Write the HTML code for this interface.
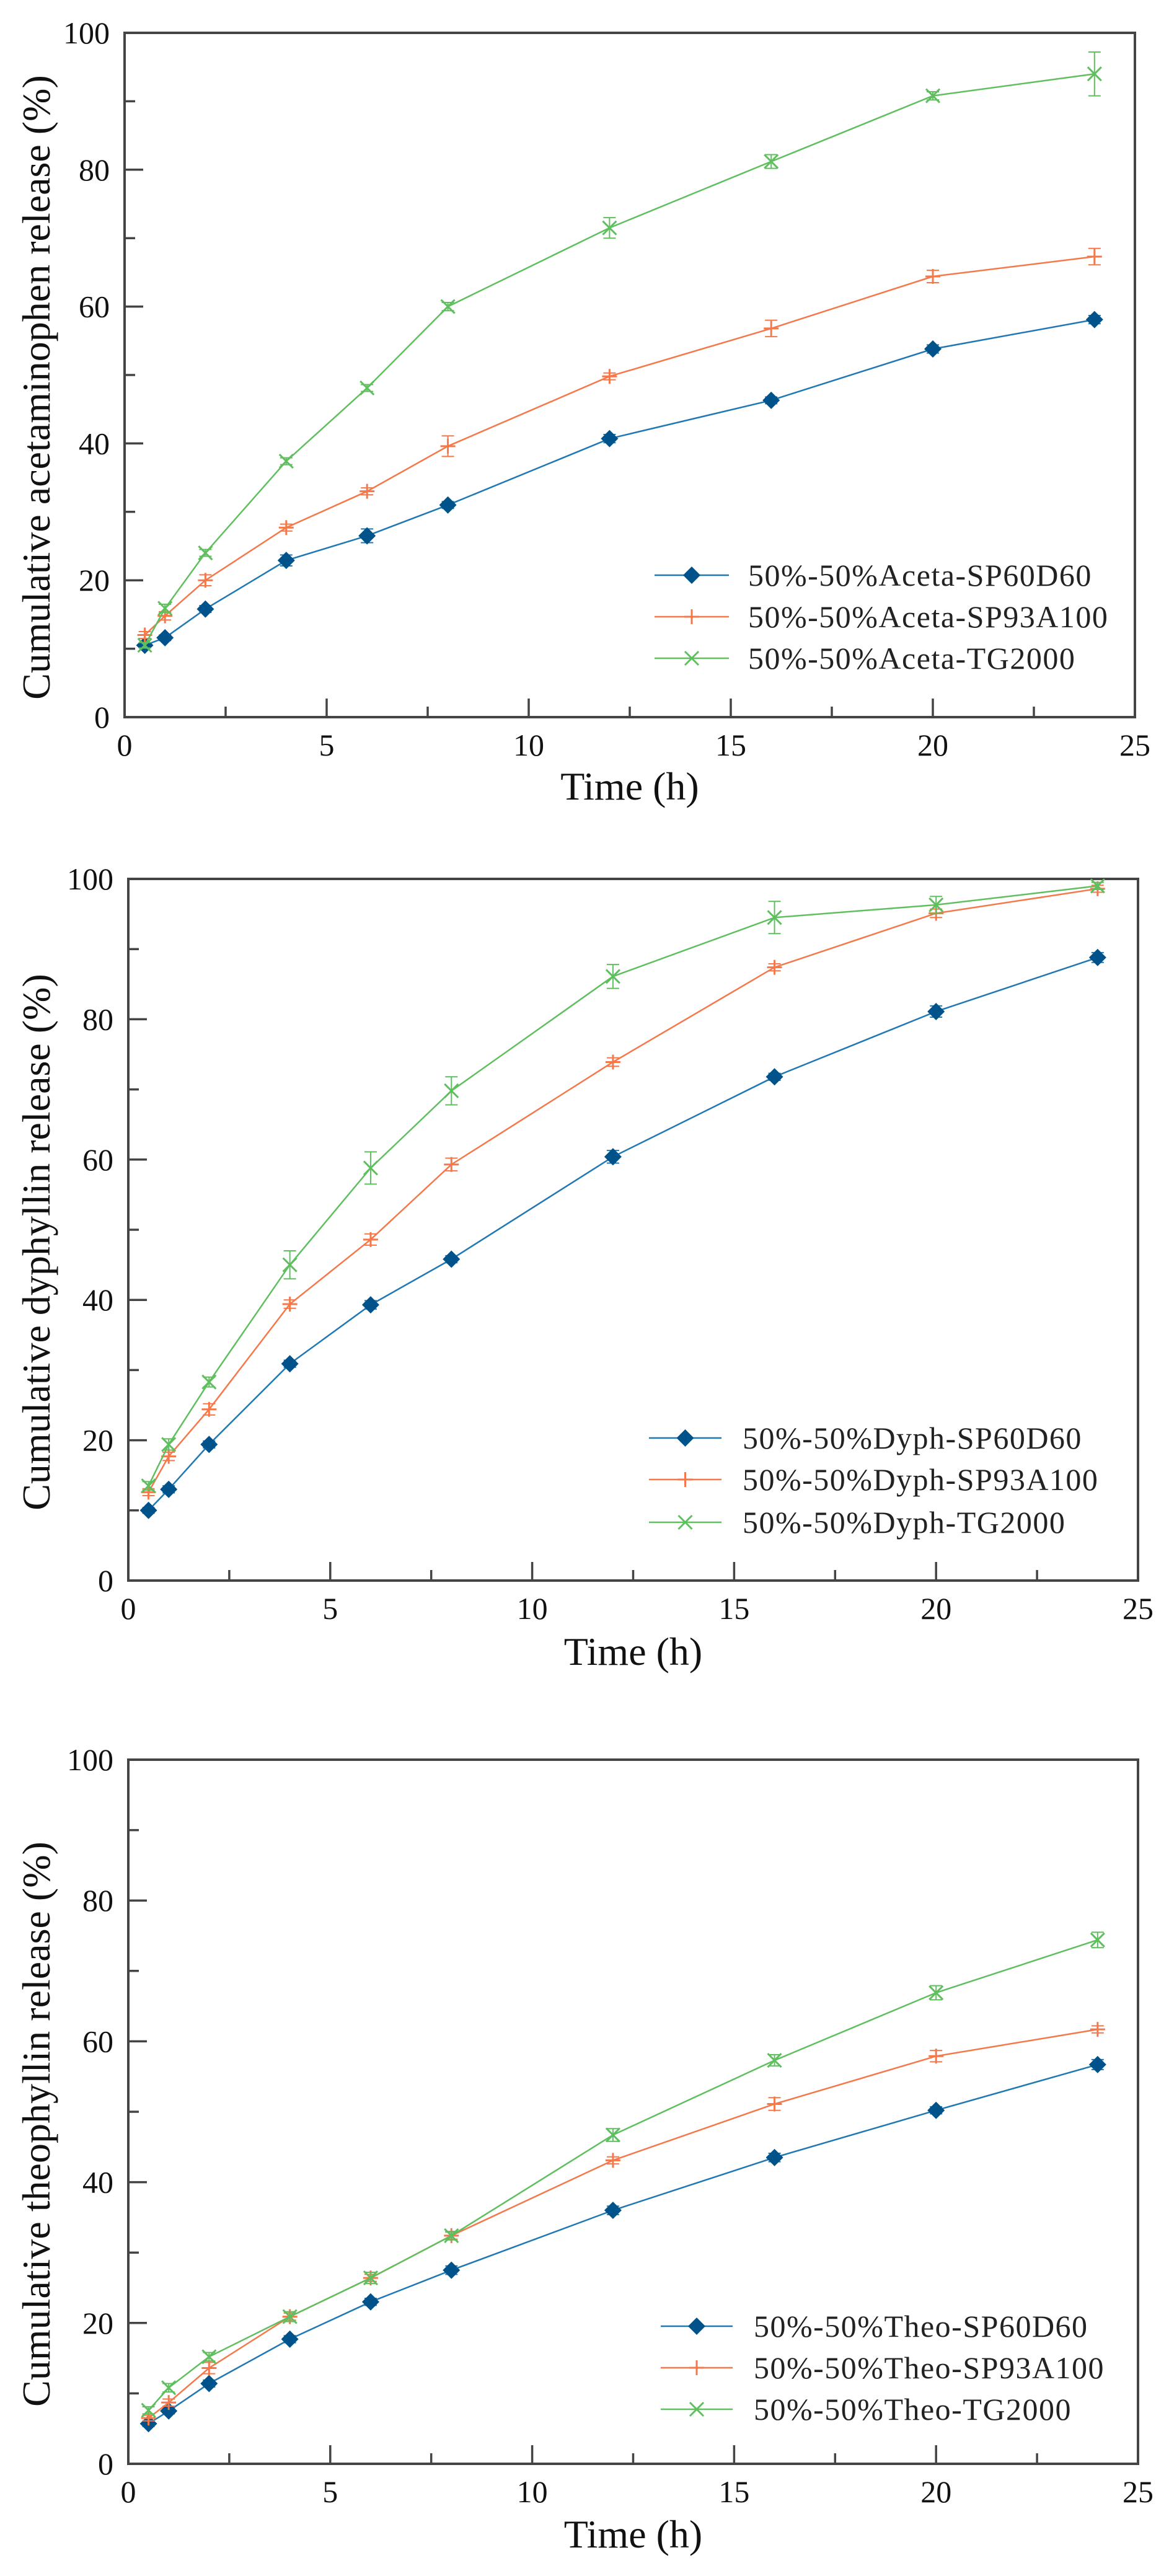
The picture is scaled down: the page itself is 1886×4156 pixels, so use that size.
<!DOCTYPE html>
<html><head><meta charset="utf-8">
<style>
html,body{margin:0;padding:0;background:#fff;}
svg{display:block;font-family:"Liberation Serif",serif;}
</style></head>
<body>
<svg id="fig" width="1886" height="4156" viewBox="0 0 1886 4156" xmlns="http://www.w3.org/2000/svg"></svg>
<script>
const times = [0.5,1,2,4,6,8,12,16,20,24];
const xTicks = [0,5,10,15,20,25];
const yTicks = [0,20,40,60,80,100];
// Chart 1: acetaminophen
const acetaSP60 = [10.5,11.6,15.8,22.9,26.5,31,40.7,46.3,53.8,58.1];
const acetaSP60Err = [0.4,0.4,0.5,0.8,1,0.5,0.6,0.5,0.6,0.6];
const acetaSP93 = [12,14.8,20,27.7,33,39.6,49.8,56.8,64.4,67.3];
const acetaSP93Err = [0.5,0.6,0.8,0.5,0.5,1.5,0.5,1.2,0.9,1.2];
const acetaTG = [10.5,15.9,24,37.4,48.1,60,71.5,81.2,90.8,94];
const acetaTGErr = [0.4,0.6,0.5,0.5,0.5,0.6,1.5,1,0.6,3.2];
// Chart 2: dyphyllin
const dyphSP60 = [10,13,19.4,30.9,39.3,45.8,60.4,71.8,81.1,88.8];
const dyphSP60Err = [0.4,0.5,0.5,0.5,0.6,0.5,0.9,0.5,0.8,0.7];
const dyphSP93 = [12.6,17.7,24.4,39.4,48.6,59.3,73.9,87.4,95.1,98.6];
const dyphSP93Err = [0.5,0.6,0.8,0.6,0.8,0.9,0.6,0.5,0.6,0.5];
const dyphTG = [13.5,19.4,28.3,45,58.8,69.8,86.1,94.5,96.3,99];
const dyphTGErr = [0.6,0.8,0.7,2,2.3,2,1.7,2.3,1.2,0.5];
// Chart 3: theophyllin
const theoSP60 = [5.7,7.5,11.4,17.7,23,27.5,36,43.5,50.2,56.7];
const theoSP60Err = [0.4,0.4,0.5,0.5,0.5,0.6,0.6,0.6,0.5,0.7];
const theoSP93 = [6.5,8.7,13.6,20.9,26.4,32.4,43.1,51.1,57.9,61.7];
const theoSP93Err = [0.4,0.5,0.8,0.5,0.5,0.5,0.5,0.9,0.8,0.5];
const theoTG = [7.6,10.8,15.2,20.9,26.4,32.4,46.7,57.3,66.9,74.4];
const theoTGErr = [0.5,0.6,0.6,0.7,0.8,0.6,0.9,0.8,1,1.1];

const NS = "http://www.w3.org/2000/svg";
const svg = document.getElementById('fig');
const COL = {blue:'#1f78b4', blueM:'#00538a', orange:'#f5784a', green:'#5fbf5f'};
function mk(tag, attrs, parent){
  const e = document.createElementNS(NS, tag);
  for (const k in attrs) e.setAttribute(k, attrs[k]);
  (parent||svg).appendChild(e);
  return e;
}
const charts = [
  {name:'acetaminophen', x0:201, x1:1831, yTop:53, yBot:1157, title:'Cumulative acetaminophen release (%)', drug:'Aceta',
   series:[[acetaSP60,acetaSP60Err],[acetaSP93,acetaSP93Err],[acetaTG,acetaTGErr]],
   legY:[928,995,1062], legX0:1056, legX1:1176, legT:1207, titleX:58, timeY:1268},
  {name:'dyphyllin', x0:207, x1:1836, yTop:1418, yBot:2550, title:'Cumulative dyphyllin release (%)', drug:'Dyph',
   series:[[dyphSP60,dyphSP60Err],[dyphSP93,dyphSP93Err],[dyphTG,dyphTGErr]],
   legY:[2320,2387,2456], legX0:1047, legX1:1164, legT:1198, titleX:58, timeY:2664},
  {name:'theophyllin', x0:207, x1:1836, yTop:2839, yBot:3975, title:'Cumulative theophyllin release (%)', drug:'Theo',
   series:[[theoSP60,theoSP60Err],[theoSP93,theoSP93Err],[theoTG,theoTGErr]],
   legY:[3753,3820,3887], legX0:1066, legX1:1182, legT:1216, titleX:58, timeY:4088}
];
const sNames = ['SP60D60','SP93A100','TG2000'];
const sCols = [COL.blue, COL.orange, COL.green];

function marker(g, kind, x, y){
  if (kind===0){
    const m = mk('path',{d:`M${x} ${y-14}L${x+14} ${y}L${x} ${y+14}L${x-14} ${y}Z`, fill:COL.blueM}, g);
    
    
  } else if (kind===1){
    const m = mk('path',{d:`M${x-12} ${y}H${x+12}M${x} ${y-12}V${y+12}`, stroke:COL.orange,'stroke-width':3,fill:'none'}, g);
    
    
  } else {
    const m = mk('path',{d:`M${x-11} ${y-11}L${x+11} ${y+11}M${x+11} ${y-11}L${x-11} ${y+11}`, stroke:COL.green,'stroke-width':3,fill:'none'}, g);
    
    
  }
}

charts.forEach(c=>{
  const g = mk('g',{});
  
  
  const sx = v => c.x0 + (v/25)*(c.x1-c.x0);
  const sy = v => c.yBot - (v/100)*(c.yBot-c.yTop);
  const fr = mk('rect',{x:c.x0,y:c.yTop,width:c.x1-c.x0,height:c.yBot-c.yTop,fill:'none',stroke:'#444','stroke-width':4}, g);
  
  
  for (let v=0; v<=100; v+=10){
    const major = v%20===0;
    const t = mk('line',{x1:c.x0,x2:c.x0+(major?30:17),y1:sy(v),y2:sy(v),stroke:'#444','stroke-width':3.5}, g);
    
    
  }
  yTicks.forEach(v=>{
    const t = mk('text',{x:c.x0-24,y:sy(v)+17,'text-anchor':'end','font-size':50,fill:'#111'}, g);
    t.textContent = v;
    
    
  });
  for (let v=2.5; v<25; v+=2.5){
    const major = v%5===0;
    const t = mk('line',{x1:sx(v),x2:sx(v),y1:c.yBot,y2:c.yBot-(major?30:17),stroke:'#444','stroke-width':3.5}, g);
    
    
  }
  xTicks.forEach(v=>{
    const t = mk('text',{x:sx(v),y:c.yBot+62,'text-anchor':'middle','font-size':50,fill:'#111'}, g);
    t.textContent = v;
    
    
  });
  const xt = mk('text',{x:(c.x0+c.x1)/2,y:c.timeY+22,'text-anchor':'middle','font-size':64,fill:'#111'}, g);
  xt.textContent = 'Time (h)';
  
  
  const cy = (c.yTop+c.yBot)/2 + 20;
  const yt = mk('text',{x:0,y:0,transform:`translate(${c.titleX+22},${cy}) rotate(-90)`,'text-anchor':'middle','font-size':64,fill:'#111'}, g);
  yt.textContent = c.title;
  
  
  c.series.forEach((s,si)=>{
    const vals = s[0], errs = s[1];
    const sg = mk('g',{}, g);
    
    
    const pts = times.map((t,i)=>sx(t).toFixed(1)+','+sy(vals[i]).toFixed(1)).join(' ');
    const ln = mk('polyline',{points:pts,fill:'none',stroke:sCols[si],'stroke-width':2.5}, sg);
    
    
    times.forEach((t,i)=>{
      const x = sx(t), y1 = sy(vals[i]+errs[i]), y2 = sy(vals[i]-errs[i]);
      const eb = mk('path',{d:`M${x} ${y1}V${y2}M${x-10} ${y1}H${x+10}M${x-10} ${y2}H${x+10}`,stroke:sCols[si],'stroke-width':2,fill:'none'}, sg);
      
      
      marker(sg, si, x, sy(vals[i]));
    });
    const lg = mk('g',{}, g);
    
    
    const ly = c.legY[si];
    mk('line',{x1:c.legX0,x2:c.legX1,y1:ly,y2:ly,stroke:sCols[si],'stroke-width':2.5}, lg);
    marker(lg, si, (c.legX0+c.legX1)/2, ly);
    const lt = mk('text',{x:c.legT,y:ly+17,'font-size':50,'letter-spacing':1.5,fill:'#222'}, lg);
    lt.textContent = '50%-50%'+c.drug+'-'+sNames[si];
  });
});
</script>
</body></html>
